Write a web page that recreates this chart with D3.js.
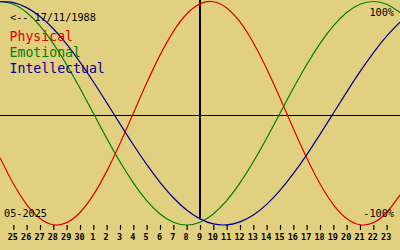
<!DOCTYPE html>
<html>
<head>
<meta charset="utf-8">
<script src="https://cdn.jsdelivr.net/npm/d3@7"></script>
<style>
  html, body { margin: 0; padding: 0; background: #e0d080; }
  svg { display: block; }
  text { font-family: "DejaVu Sans Mono", "Liberation Mono", monospace; }
</style>
</head>
<body>
<svg id="chart" width="400" height="250"></svg>
<script>
// Tick labels (day of month), Apr 25 .. May 23, 2025
const dayLabels = ["25","26","27","28","29","30","1","2","3","4","5","6","7","8","9","10",
  "11","12","13","14","15","16","17","18","19","20","21","22","23"];
// Curve values sampled once per day, from the day before the first tick (index -1) to the day after the last (index 29)
const firstIndex = -1;
const physical = [-0.398, -0.631, -0.817, -0.942, -0.998, -0.979, -0.888, -0.731, -0.520, -0.270,
  0, 0.270, 0.520, 0.731, 0.888, 0.979, 0.998, 0.942, 0.817, 0.631, 0.398, 0.136, -0.136,
  -0.398, -0.631, -0.817, -0.942, -0.998, -0.979, -0.888, -0.731];
const emotional = [1, 0.975, 0.901, 0.782, 0.623, 0.434, 0.223, 0, -0.223, -0.434, -0.623,
  -0.782, -0.901, -0.975, -1, -0.975, -0.901, -0.782, -0.623, -0.434, -0.223, 0, 0.223,
  0.434, 0.623, 0.782, 0.901, 0.975, 1, 0.975, 0.901];
const intellectual = [0.999, 0.990, 0.945, 0.866, 0.756, 0.618, 0.458, 0.282, 0.095, -0.095,
  -0.282, -0.458, -0.618, -0.756, -0.866, -0.945, -0.990, -0.999, -0.972, -0.910, -0.815,
  -0.690, -0.541, -0.372, -0.189, 0, 0.189, 0.372, 0.541, 0.690, 0.815];
const seriesNames = ["Physical", "Emotional", "Intellectual"];
const seriesColors = ["#e00000", "#008000", "#000090"];
const birthLabel = "<-- 17/11/1988";
const monthLabel = "05-2025";
const topLabel = "100%";
const bottomLabel = "-100%";
const todayIndex = 14;

const svg = d3.select("#chart");
const W = 400, H = 250;

svg.append("rect").attr("width", W).attr("height", H).attr("fill", "#e0d080");

const x = d3.scaleLinear().domain([-1, 29]).range([0, 400]);
const y = d3.scaleLinear().domain([-1, 1]).range([225, 1.5]);

// horizontal centre rule
svg.append("line")
  .attr("x1", 0).attr("x2", W).attr("y1", 115.5).attr("y2", 115.5)
  .attr("stroke", "#000").attr("stroke-width", 1);

// today vertical rule
svg.append("line")
  .attr("x1", x(todayIndex)).attr("x2", x(todayIndex)).attr("y1", 0).attr("y2", 218)
  .attr("stroke", "#000").attr("stroke-width", 2);

// curves
const line = d3.line()
  .x((d, i) => x(firstIndex + i))
  .y(d => y(d))
  .curve(d3.curveNatural);

[physical, emotional, intellectual].forEach((s, k) => {
  svg.append("path")
    .datum(s)
    .attr("d", line)
    .attr("fill", "none")
    .attr("stroke", seriesColors[k])
    .attr("stroke-width", 1.2);
});

// bottom axis
const axis = d3.axisBottom(x)
  .tickValues(d3.range(dayLabels.length))
  .tickFormat(i => dayLabels[i])
  .tickSize(5)
  .tickPadding(4);
const gAxis = svg.append("g").attr("transform", "translate(0,225)").call(axis);
gAxis.select(".domain").remove();
gAxis.selectAll(".tick line").attr("stroke", "#000").attr("stroke-width", 1.2);
gAxis.selectAll(".tick text")
  .attr("fill", "#000")
  .attr("dx", -1)
  .style("font-family", "'DejaVu Sans Mono', monospace")
  .style("font-size", "8.5px")
  .style("font-weight", "bold");

// labels
svg.append("text").attr("x", 10).attr("y", 20.5)
  .style("font-size", "10.2px").attr("fill", "#000").text(birthLabel);

seriesNames.forEach((n, k) => {
  svg.append("text").attr("x", 9.5).attr("y", 40.5 + k * 16)
    .style("font-size", "13.2px").attr("fill", seriesColors[k]).text(n);
});

svg.append("text").attr("x", 394).attr("y", 16).attr("text-anchor", "end")
  .style("font-size", "10.2px").attr("fill", "#000").text(topLabel);
svg.append("text").attr("x", 394).attr("y", 216.5).attr("text-anchor", "end")
  .style("font-size", "10.2px").attr("fill", "#000").text(bottomLabel);
svg.append("text").attr("x", 4).attr("y", 216.5)
  .style("font-size", "10.2px").attr("fill", "#000").text(monthLabel);
</script>
</body>
</html>
